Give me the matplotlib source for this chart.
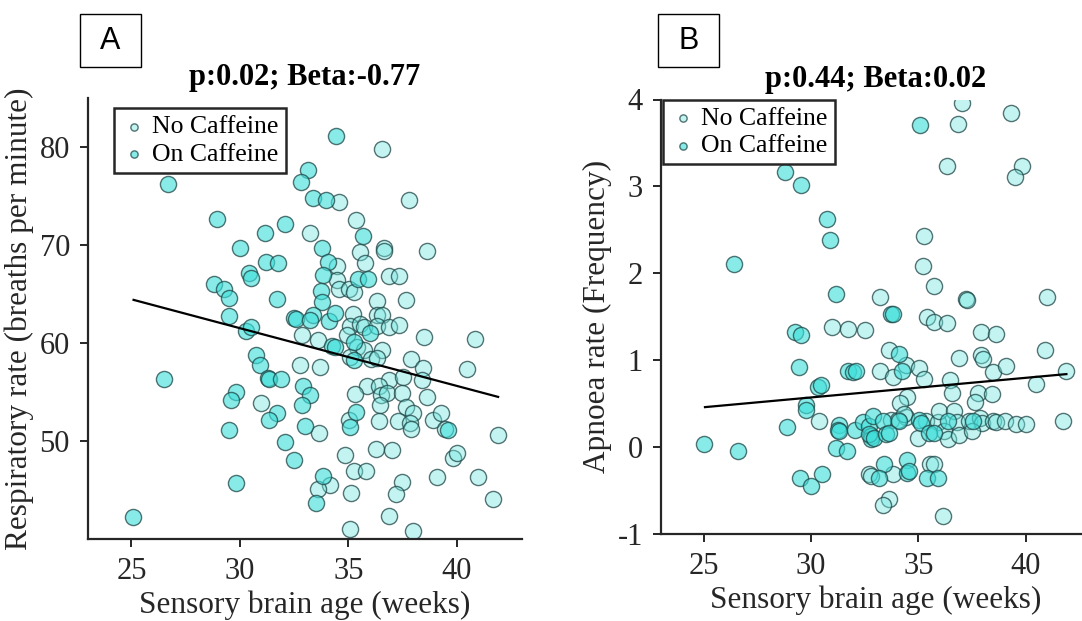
import matplotlib
matplotlib.use('Agg')
import matplotlib.pyplot as plt
from matplotlib.patches import Rectangle
import numpy as np

# ---- data ----
# panel A: respiratory rate vs sensory brain age
a_no_x = [36.56, 34.55, 37.81, 35.34, 33.21, 36.64, 36.64, 38.61, 35.52, 34.47, 35.75, 34.47, 36.87, 37.33,
          34.58, 35.01, 35.28, 36.33, 37.64, 30.96, 35.22, 36.30, 36.56, 35.09, 35.52, 35.71, 36.30, 36.87,
          37.33, 32.86, 33.58, 34.94, 35.40, 35.71, 36.56, 35.09, 36.02, 36.33, 38.49, 40.83, 32.78, 33.67,
          37.90, 38.46, 40.46, 36.87, 37.53, 38.37, 35.86, 35.32, 36.40, 36.48, 36.79, 37.49, 38.61, 36.44,
          37.64, 37.99, 35.01, 36.40, 37.28, 37.84, 37.90, 38.92, 39.29, 39.44, 41.91, 33.63, 34.86, 36.25,
          36.99, 39.80, 39.99, 35.28, 35.83, 39.07, 40.96, 34.14, 33.58, 35.12, 37.49, 37.21, 41.65, 36.87,
          35.06, 37.99]
a_no_y = [79.76, 74.39, 74.62, 72.52, 71.26, 69.72, 69.39, 69.42, 69.29, 67.86, 68.13, 66.40, 66.84, 66.84,
          65.48, 65.54, 65.20, 64.30, 64.40, 53.91, 62.96, 62.86, 62.86, 61.73, 61.94, 61.60, 61.73, 61.66,
          61.84, 60.82, 60.31, 60.82, 59.63, 59.29, 59.29, 58.54, 58.33, 58.44, 60.65, 60.37, 57.76, 57.59,
          58.33, 57.42, 57.32, 56.22, 56.50, 56.22, 55.61, 54.77, 55.61, 54.69, 54.87, 54.87, 54.52, 53.67,
          53.44, 52.89, 52.14, 52.07, 52.07, 51.81, 51.19, 52.14, 52.83, 51.19, 50.61, 50.85, 48.57, 49.15,
          49.08, 48.23, 48.81, 46.97, 46.97, 46.29, 46.29, 45.51, 45.07, 44.72, 45.85, 44.56, 44.05, 42.35,
          41.05, 40.82]
a_on_x = [26.67, 28.95, 32.07, 31.17, 30.00, 31.19, 31.77, 30.40, 30.50, 28.80, 29.29, 29.52, 31.71,
          34.43, 33.16, 32.82, 33.39, 33.98, 35.68, 33.78, 34.06, 33.81, 35.43, 35.91, 33.75, 33.80,
          29.52, 30.29, 30.52, 32.50, 32.60, 30.76, 30.91, 26.48, 31.28, 31.32, 31.91, 29.80, 29.57, 31.70,
          31.34, 29.48, 32.10, 32.50, 29.80, 25.09, 33.39, 33.24, 34.09, 34.40, 34.24, 34.40, 35.99, 35.25,
          32.93, 33.24, 32.86, 35.37, 35.09, 33.01, 33.83, 33.52, 39.57, 35.25]
a_on_y = [76.25, 72.65, 72.17, 71.22, 69.69, 68.23, 68.16, 67.18, 66.67, 65.99, 65.48, 64.60, 64.50,
          81.15, 77.69, 76.43, 74.83, 74.59, 70.95, 69.69, 68.27, 66.91, 66.56, 66.50, 65.31, 64.20,
          62.76, 61.26, 61.66, 62.55, 62.45, 58.78, 57.76, 56.36, 56.40, 56.30, 56.33, 55.03, 54.18, 52.83,
          52.14, 51.12, 49.93, 48.06, 45.74, 42.21, 62.86, 62.35, 62.28, 63.09, 59.69, 59.63, 60.99, 58.27,
          55.61, 54.69, 53.67, 52.99, 51.46, 51.53, 46.43, 43.70, 51.12, 60.14]
a_fit_x = [25.1, 41.9]
a_fit_y = [64.4, 54.5]

# panel B: apnoea rate vs sensory brain age
b_no_x = [37.04, 36.84, 39.33, 36.34, 39.84, 39.49, 35.28, 35.23, 35.75, 33.22, 37.22, 37.28, 41.01, 35.39,
          35.75, 36.32, 30.95, 31.70, 32.52, 37.93, 38.63, 33.61, 37.93, 38.01, 36.87, 40.89, 33.22, 33.80,
          34.42, 35.05, 35.28, 36.45, 38.47, 39.10, 41.90, 36.57, 37.77, 38.44, 40.50, 34.45, 34.14, 37.66,
          30.37, 32.71, 34.42, 35.36, 35.90, 35.98, 36.68, 36.79, 37.38, 37.85, 37.98, 38.47, 38.63, 39.02,
          39.56, 40.03, 41.75, 34.97, 36.21, 36.37, 36.89, 37.51, 35.56, 35.75, 32.79, 33.80, 33.61, 33.33,
          36.14, 33.72, 34.03, 34.34]
b_no_y = [3.96, 3.72, 3.84, 3.23, 3.23, 3.11, 2.43, 2.08, 1.85, 1.73, 1.70, 1.69, 1.73, 1.50,
          1.44, 1.43, 1.38, 1.36, 1.35, 1.32, 1.30, 1.12, 1.06, 1.01, 1.03, 1.12, 0.88, 0.81,
          0.94, 0.91, 0.78, 0.77, 0.86, 0.93, 0.87, 0.62, 0.62, 0.61, 0.73, 0.58, 0.51, 0.52,
          0.30, -0.31, 0.35, 0.30, 0.29, 0.42, 0.41, 0.29, 0.30, 0.34, 0.28, 0.30, 0.29, 0.30,
          0.27, 0.27, 0.30, 0.11, 0.18, 0.09, 0.14, 0.19, -0.19, -0.19, -0.33, -0.31, -0.60, -0.67,
          -0.79, 0.31, 0.31, 0.38]
b_on_x = [35.08, 28.77, 29.55, 30.72, 30.87, 26.40, 31.17, 33.72, 33.82, 29.25, 29.52, 34.08, 29.44, 31.70,
          31.93, 32.09, 34.24, 30.30, 30.45, 29.75, 29.75, 28.89, 31.31, 31.23, 31.31, 32.06, 32.43, 32.71,
          32.79, 32.79, 32.87, 31.15, 31.65, 25.00, 26.59, 29.47, 29.98, 30.50, 33.33, 34.11, 35.01, 35.12,
          36.37, 37.54, 32.71, 32.94, 33.49, 33.64, 35.51, 35.75, 33.41, 34.45, 33.15, 34.45, 34.55, 35.39,
          35.90]
b_on_y = [3.71, 3.16, 3.02, 2.63, 2.38, 2.11, 1.76, 1.53, 1.53, 1.32, 1.29, 1.07, 0.92, 0.87,
          0.86, 0.88, 0.87, 0.69, 0.72, 0.49, 0.43, 0.23, 0.26, 0.20, 0.19, 0.20, 0.29, 0.24,
          0.13, 0.09, 0.36, -0.01, -0.05, 0.04, -0.04, -0.35, -0.45, -0.31, 0.30, 0.30, 0.31, 0.28,
          0.30, 0.30, 0.15, 0.11, 0.15, 0.16, 0.16, 0.16, -0.19, -0.15, -0.35, -0.30, -0.27, -0.35,
          -0.35]
b_fit_x = [25.05, 41.9]
b_fit_y = [0.46, 0.84]

serif = 'Liberation Serif'
plt.rcParams['font.family'] = serif
plt.rcParams['axes.unicode_minus'] = False

no_face = (0.45, 0.90, 0.88, 0.42)
on_face = (0.25, 0.88, 0.86, 0.62)
edge = (0.12, 0.28, 0.28, 0.75)
ink = '#262626'

W, H = 1082, 621
fig = plt.figure(figsize=(W / 100, H / 100), dpi=100)


def panel(rect, no_x, no_y, on_x, on_y, fit_x, fit_y, title, ylabel, ylim, yticks, leg_anchor):
    ax = fig.add_axes(rect)
    ax.scatter(no_x, no_y, s=135, facecolors=[no_face], edgecolors=[edge], linewidths=1.0, zorder=2,
               label='No Caffeine')
    ax.scatter(on_x, on_y, s=135, facecolors=[on_face], edgecolors=[edge], linewidths=1.0, zorder=2,
               label='On Caffeine')
    ax.plot(fit_x, fit_y, color='black', lw=1.6, zorder=3)
    ax.set_xlim(23, 43)
    ax.set_ylim(*ylim)
    ax.set_xticks([25, 30, 35, 40])
    ax.set_yticks(yticks)
    ax.spines['top'].set_visible(False)
    ax.spines['right'].set_visible(False)
    for s in ['left', 'bottom']:
        ax.spines[s].set_linewidth(1.6)
        ax.spines[s].set_color(ink)
    ax.tick_params(direction='out', length=6, width=1.4, labelsize=22, colors=ink, pad=7)
    ax.set_xlabel('Sensory brain age (weeks)', fontsize=22.5, color=ink, labelpad=3)
    ax.set_ylabel(ylabel, fontsize=22.5, color=ink, labelpad=4)
    ax.set_title(title, fontsize=22, fontweight='bold', pad=9)
    leg = ax.legend(loc='upper left', bbox_to_anchor=leg_anchor, borderaxespad=0, markerscale=0.45,
                    fontsize=18.5, frameon=True, fancybox=False, framealpha=1, edgecolor=ink,
                    handletextpad=0.2, labelspacing=0.18, borderpad=0.28, handlelength=1.0)
    leg.get_frame().set_linewidth(1.8)
    return ax


axA = panel([88 / W, 1 - 539 / H, 434 / W, 441 / H], a_no_x, a_no_y, a_on_x, a_on_y, a_fit_x, a_fit_y,
            'p:0.02; Beta:-0.77', 'Respiratory rate (breaths per minute)', (40, 85), [50, 60, 70, 80],
            (0.06, 0.977))
axB = panel([661 / W, 1 - 534 / H, 429 / W, 434.5 / H], b_no_x, b_no_y, b_on_x, b_on_y, b_fit_x, b_fit_y,
            'p:0.44; Beta:0.02', 'Apnoea rate (Frequency)', (-1, 4), [-1, 0, 1, 2, 3, 4],
            (0.005, 1.0))

# panel letters
for letter, x0 in [('A', 80), ('B', 658)]:
    fig.add_artist(Rectangle((x0 / W, 1 - 67 / H), 61 / W, 53 / H, fill=False, lw=1.0,
                             edgecolor='black', transform=fig.transFigure))
    fig.text((x0 + 30.5) / W, 1 - 41 / H, letter, family='Liberation Sans', fontsize=22,
             ha='center', va='center')

fig.savefig('out.png', dpi=100)
